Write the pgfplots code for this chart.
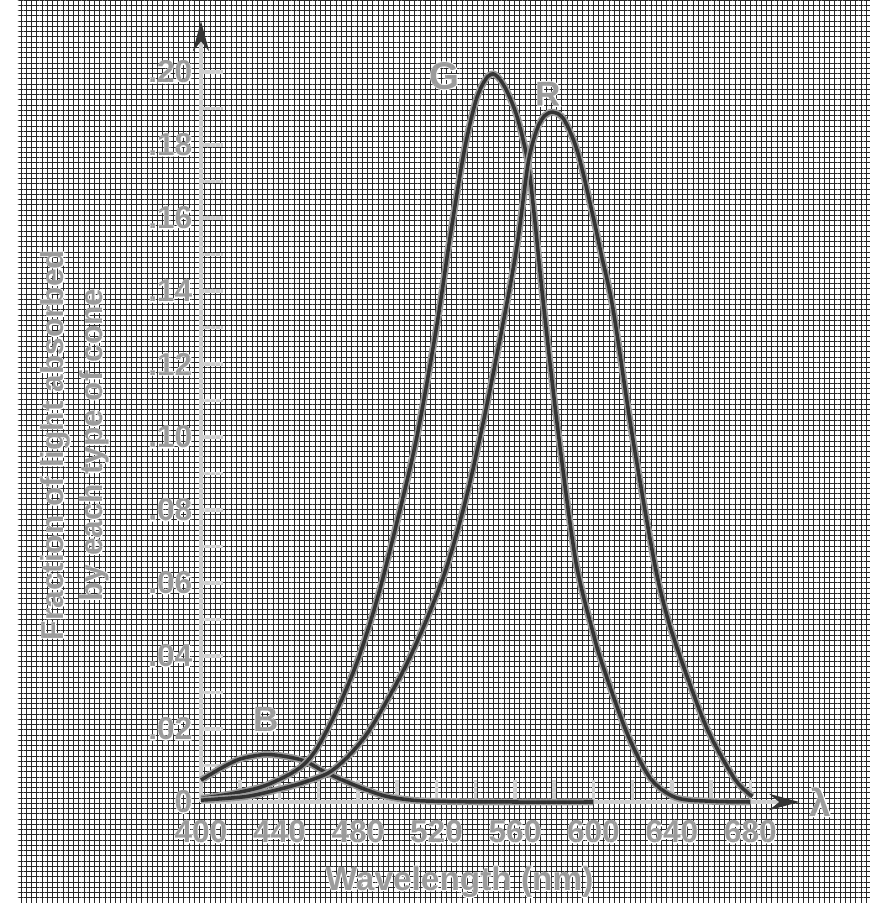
\documentclass[border=0pt]{standalone}
\usepackage{fontspec}
\setmainfont{Liberation Sans}
\newfontfamily\lblfont{Liberation Sans Bold}
\newfontfamily\halofont[FakeBold=4]{Liberation Sans Bold}
\usepackage{pgfplots}
\pgfplotsset{compat=1.18}
\usetikzlibrary{arrows.meta,patterns.meta}
\definecolor{Ink}{HTML}{333333}
\definecolor{Soft}{HTML}{9C9C9C}
\definecolor{AxisGrey}{HTML}{CFCFCF}

% grey text with a white rim, as in the scanned figure
\newcommand\halo[1]{\makebox[0pt][l]{\halofont\color{white}#1}{\lblfont\color{Soft}#1}}
\newcommand\halonode[4]{%
  \node[#2, text=white, font=#3\halofont] at #1 {#4};
  \node[#2, text=Soft, font=#3\lblfont] at #1 {#4};}

\pgfplotstableread{
nm    v
400   0.0060
410   0.0092
420   0.0118
433   0.0130
445   0.0123
453.8 0.0110
465   0.0077
483   0.0036
495   0.0015
510   0.0004
530   0.0001
560   0.0
600   0.0
}\Bcone

\pgfplotstableread{
nm    v
400   0.0010
415   0.0022
430   0.0040
440   0.0062
448   0.0085
453.8 0.0110
460   0.0155
470   0.0260
480   0.0390
490   0.0560
500   0.0770
510   0.1000
520   0.1300
527   0.1550
534   0.1780
540   0.1920
545   0.1980
549   0.1995
553   0.1975
557   0.1935
561.5 0.1870
566.7 0.1750
570   0.1600
574.4 0.1370
582   0.1014
591   0.0660
600   0.0460
605   0.0370
617   0.0190
629   0.0065
642   0.0012
660   0.0002
680   0.0
}\Gcone

\pgfplotstableread{
nm    v
400   0.0005
423   0.0015
440   0.0035
452   0.0053
465   0.0080
475   0.0125
485   0.0190
495   0.0280
505   0.0380
515   0.0500
525   0.0640
535   0.0830
545   0.1070
556   0.1370
561.5 0.1540
566.7 0.1750
571   0.1840
575   0.1880
579.5 0.1890
585   0.1870
592   0.1780
600   0.1600
604   0.1500
610   0.1350
619.5 0.1014
631   0.0658
638   0.0500
646   0.0370
658   0.0200
672   0.0063
681   0.0015
}\Rcone

\begin{document}
\begin{tikzpicture}
\useasboundingbox (-4.02,-2.02) rectangle (13.38,16.04);
\fill[white] (-4.02,-2.02) rectangle (13.38,16.04);
\fill[pattern={Hatch[angle=0,distance=1.05mm,line width=0.18mm]}, pattern color=black!85]
  (-3.66,-2.02) rectangle (13.38,16.04);
\begin{axis}[
  at={(0,0)}, anchor=south west,
  scale only axis,
  width=11.97cm, height=15.62cm,
  xmin=400, xmax=705,
  ymin=0, ymax=0.214,
  axis lines=left,
  clip=false,
  axis line style={AxisGrey, line width=2.4pt},
  x axis line style={-{Stealth[length=0.6cm,width=0.32cm,Ink]}},
  y axis line style={-{Stealth[length=0.6cm,width=0.32cm,Ink]}},
  tick align=inside,
  major tick length=0.44cm,
  tick style={AxisGrey, line width=2pt},
  xtick={400,420,...,680},
  xticklabels={\halo{400},,\halo{440},,\halo{480},,\halo{520},,\halo{560},,\halo{600},,\halo{640},,\halo{680}},
  ytick={0,0.01,0.02,0.03,0.04,0.05,0.06,0.07,0.08,0.09,0.10,0.11,0.12,0.13,0.14,0.15,0.16,0.17,0.18,0.19,0.20},
  yticklabels={\halo{0},,\halo{.02},,\halo{.04},,\halo{.06},,\halo{.08},,\halo{.10},,\halo{.12},,\halo{.14},,\halo{.16},,\halo{.18},,\halo{.20}},
  xticklabel style={font=\fontsize{18}{20}\selectfont, yshift=-0.25cm},
  yticklabel style={font=\fontsize{18}{20}\selectfont, xshift=-0.05cm},
  halo/.style={line width=3.9pt, black!40, smooth, tension=0.5},
  core/.style={line width=2pt, Ink, smooth, tension=0.5},
]
\addplot[halo] table[x=nm,y=v] {\Bcone};
\addplot[core] table[x=nm,y=v] {\Bcone};
\addplot[halo] table[x=nm,y=v] {\Gcone};
\addplot[core] table[x=nm,y=v] {\Gcone};
\addplot[halo] table[x=nm,y=v] {\Rcone};
\addplot[core] table[x=nm,y=v] {\Rcone};

\halonode{(axis cs:524,0.199)}{}{\fontsize{22}{24}\selectfont}{G}
\halonode{(axis cs:577,0.194)}{}{\fontsize{20}{22}\selectfont}{R}
\halonode{(axis cs:433,0.0225)}{}{\fontsize{20}{22}\selectfont}{B}
\node[text=white, font=\fontsize{22}{24}\selectfont\halofont] at (rel axis cs:1.035,0) {λ};
\node[text=Soft, font=\fontsize{22}{24}\selectfont\lblfont] at (rel axis cs:1.035,0) {λ};
\halonode{(rel axis cs:0.432,0)}{yshift=-1.6cm}{\fontsize{19}{21}\selectfont}{Wavelength (nm)}
\halonode{(rel axis cs:0,0.457)}{xshift=-2.52cm, rotate=90, align=center}{\fontsize{18}{22}\selectfont}{Fraction of light absorbed\\by each type of cone}
\end{axis}
\end{tikzpicture}
\end{document}
